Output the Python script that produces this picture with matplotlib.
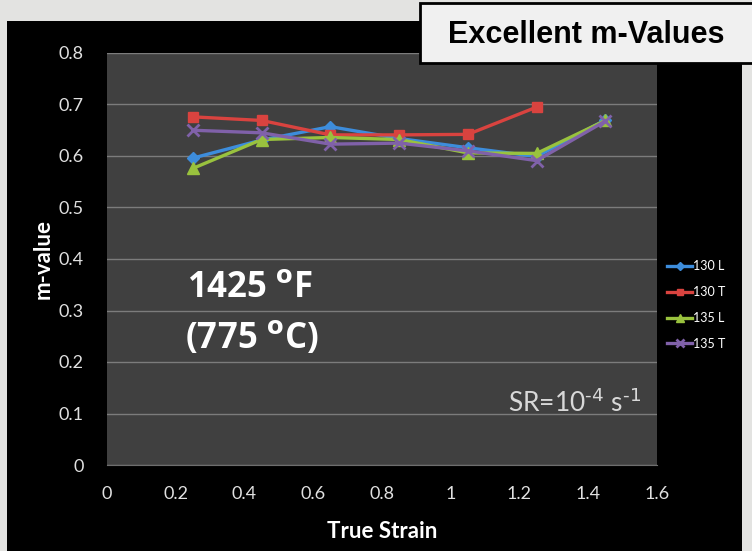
import matplotlib
matplotlib.use("Agg")
import matplotlib.pyplot as plt
from matplotlib.patches import Rectangle

# m-value vs true strain, four specimens
strain = [0.25, 0.45, 0.65, 0.85, 1.05, 1.25, 1.45]
m_130L = [0.596, 0.631, 0.657, 0.634, 0.616, 0.599, 0.670]
m_130T = [0.676, 0.669, 0.641, 0.641, 0.642, 0.695]
m_135L = [0.576, 0.632, 0.636, 0.632, 0.606, 0.605, 0.669]
m_135T = [0.650, 0.645, 0.623, 0.625, 0.610, 0.591, 0.668]

series = [
    ("130 L", strain, m_130L, "#3d8ddc", "D", 6),
    ("130 T", strain[:6], m_130T, "#d9433f", "s", 7.5),
    ("135 L", strain, m_135L, "#99c23e", "^", 8),
    ("135 T", strain, m_135T, "#8061a9", "x", 8),
]

xticks = [0, 0.2, 0.4, 0.6, 0.8, 1, 1.2, 1.4, 1.6]
xlabels = ["0", "0.2", "0.4", "0.6", "0.8", "1", "1.2", "1.4", "1.6"]
yticks = [0, 0.1, 0.2, 0.3, 0.4, 0.5, 0.6, 0.7, 0.8]
ylabels = ["0", "0.1", "0.2", "0.3", "0.4", "0.5", "0.6", "0.7", "0.8"]

plt.rcParams['font.family'] = ['Lato', 'DejaVu Sans']

fig = plt.figure(figsize=(7.52, 5.51), dpi=100)
fig.patch.set_facecolor("#e3e3e1")

# black slide panel behind the chart
W, H = 752.0, 551.0
fig.patches.append(Rectangle((7 / W, 0), (742 - 7) / W, 1 - 21 / H,
                             transform=fig.transFigure, facecolor="black",
                             edgecolor="none", zorder=0))

ax = fig.add_axes([107 / W, 1 - 465 / H, 550 / W, 412 / H])
ax.set_facecolor("#404040")
ax.set_zorder(2)

for name, x, y, c, mk, ms in series:
    if mk == "x":
        ax.plot(x, y, color=c, lw=2.4, marker=mk, ms=ms, mew=2, label=name, zorder=3)
    else:
        ax.plot(x, y, color=c, lw=2.4, marker=mk, ms=ms, mec=c, label=name, zorder=3)

ax.set_xlim(0, 1.6)
ax.set_ylim(0, 0.8)
ax.set_xticks(xticks)
ax.set_xticklabels(xlabels)
ax.set_yticks(yticks)
ax.set_yticklabels(ylabels)
ax.grid(axis="y", color="#7c7c7c", lw=1)
ax.set_axisbelow(True)
ax.tick_params(length=0, colors="#e0e0e0", labelsize=13)
ax.tick_params(axis="x", pad=15)
ax.tick_params(axis="y", pad=17)
for s in ["top", "right", "left"]:
    ax.spines[s].set_visible(False)
ax.spines["bottom"].set_color("#6e6e6e")

ax.set_xlabel("True Strain", color="white", fontsize=16, fontweight="bold", labelpad=14)
ax.set_ylabel("m-value", color="white", fontsize=16, fontweight="bold", labelpad=3)

ax.text(0.232, 0.326, r"1425 $^{\mathbf{o}}$F", color="white", fontsize=25,
        fontweight="bold", ha="left", va="baseline", family="Open Sans")
ax.text(0.226, 0.228, r"(775 $^{\mathbf{o}}$C)", color="white", fontsize=25,
        fontweight="bold", ha="left", va="baseline", family="Open Sans")
ax.text(1.167, 0.103, r"SR=10$^{\text{-4}}$ s$^{\text{-1}}$", color="#d8d8d8",
        fontsize=19, ha="left", va="baseline")

fig.legend(loc="center left", bbox_to_anchor=(667 / W, 1 - 305 / H), frameon=False,
           labelcolor="white", fontsize=9, handlelength=2.0, handletextpad=0.1,
           labelspacing=1.1, markerscale=0.65, borderpad=0, borderaxespad=0)

# title box in the top right corner
fig.patches.append(Rectangle((420 / W, 1 - 63 / H), 340 / W, 60 / H,
                             transform=fig.transFigure, facecolor="#f0f0f0",
                             edgecolor="black", lw=2, zorder=5))
fig.text(586 / W, 1 - 35 / H, "Excellent m-Values", family="Liberation Sans",
         fontweight="bold", fontsize=22, ha="center", va="center", zorder=6)

fig.savefig("out.png", dpi=100, facecolor=fig.get_facecolor())
